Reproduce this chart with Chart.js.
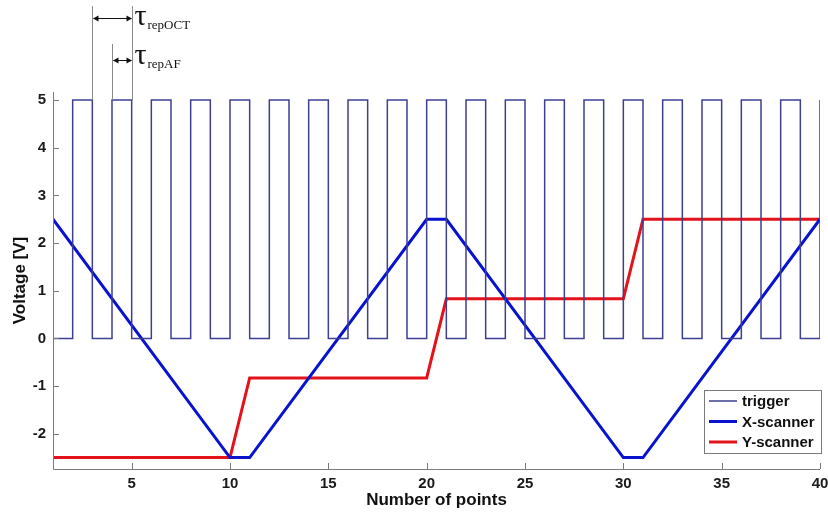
<!DOCTYPE html>
<html>
<head>
<meta charset="utf-8">
<script src="https://cdn.jsdelivr.net/npm/chart.js@4/dist/chart.umd.min.js"></script>
<style>
  html, body { margin: 0; padding: 0; background: #fff; }
  #wrap { width: 828px; height: 512px; }
</style>
</head>
<body>
<div id="wrap"><canvas id="c" width="828" height="512"></canvas></div>
<script>
// Trigger pulse level held from each sample point to the next (points 1..40)
const triggerX = [1,2,3,4,5,6,7,8,9,10,11,12,13,14,15,16,17,18,19,20,
                  21,22,23,24,25,26,27,28,29,30,31,32,33,34,35,36,37,38,39,40];
const triggerV = [0,5,0,5,0,5,0,5,0,5,0,5,0,5,0,5,0,5,0,5,
                  0,5,0,5,0,5,0,5,0,5,0,5,0,5,0,5,0,5,0,5];

// Scanner voltages at their corner points
const xScanX = [1, 10, 11, 20, 21, 30, 31, 40];
const xScanV = [2.5, -2.5, -2.5, 2.5, 2.5, -2.5, -2.5, 2.5];
const yScanX = [1, 10, 11, 20, 21, 30, 31, 40];
const yScanV = [-2.5, -2.5, -0.83, -0.83, 0.83, 0.83, 2.5, 2.5];

// Axis ticks
const xTicks = [5, 10, 15, 20, 25, 30, 35, 40];
const yTicks = [-2, -1, 0, 1, 2, 3, 4, 5];

const seriesNames = ['trigger', 'X-scanner', 'Y-scanner'];
const AXIS = '#7a7a7a';
const FONT = 'Arial, "Liberation Sans", Helvetica, sans-serif';
const SERIF = '"Times New Roman", "Liberation Serif", "DejaVu Serif", serif';

const pts = (xs, vs) => xs.map((x, i) => ({ x: x, y: vs[i] }));

// Axis lines, inward tick marks, the pulse-period annotation and the boxed legend
const decor = {
  id: 'decor',
  afterDatasetsDraw(chart) {
    const ctx = chart.ctx;
    const xs = chart.scales.x, ys = chart.scales.y;
    const a = chart.chartArea;
    ctx.save();
    ctx.strokeStyle = AXIS;
    ctx.lineWidth = 1;
    ctx.beginPath();
    ctx.moveTo(a.left + 0.5, a.top);
    ctx.lineTo(a.left + 0.5, a.bottom + 0.5);
    ctx.lineTo(a.right, a.bottom + 0.5);
    ctx.stroke();
    ctx.beginPath();
    xTicks.forEach(v => {
      const px = Math.round(xs.getPixelForValue(v)) + 0.5;
      ctx.moveTo(px, a.bottom);
      ctx.lineTo(px, a.bottom - 6);
    });
    yTicks.forEach(v => {
      const py = Math.round(ys.getPixelForValue(v)) + 0.5;
      ctx.moveTo(a.left, py);
      ctx.lineTo(a.left + 6, py);
    });
    ctx.stroke();

    // period markers above the trigger pulses
    const x3 = Math.round(xs.getPixelForValue(3)) + 0.5;
    const x4 = Math.round(xs.getPixelForValue(4)) + 0.5;
    const x5 = Math.round(xs.getPixelForValue(5)) + 0.5;
    const yTop = ys.getPixelForValue(5);
    ctx.strokeStyle = '#8a8a8a';
    ctx.beginPath();
    ctx.moveTo(x3, 6); ctx.lineTo(x3, yTop);
    ctx.moveTo(x4, 44); ctx.lineTo(x4, yTop);
    ctx.moveTo(x5, 6); ctx.lineTo(x5, yTop);
    ctx.stroke();

    const arrow = (xa, xb, y) => {
      ctx.strokeStyle = '#111';
      ctx.fillStyle = '#111';
      ctx.beginPath();
      ctx.moveTo(xa + 1, y); ctx.lineTo(xb - 1, y);
      ctx.stroke();
      ctx.beginPath();
      ctx.moveTo(xa + 0.5, y); ctx.lineTo(xa + 6, y - 3); ctx.lineTo(xa + 6, y + 3); ctx.closePath();
      ctx.moveTo(xb - 0.5, y); ctx.lineTo(xb - 6, y - 3); ctx.lineTo(xb - 6, y + 3); ctx.closePath();
      ctx.fill();
    };
    arrow(x3, x5, 18.5);
    arrow(x4, x5, 60.5);

    ctx.fillStyle = '#111';
    ctx.textBaseline = 'alphabetic';
    ctx.textAlign = 'left';
    const tau = (y, sub) => {
      ctx.font = '30px ' + SERIF;
      ctx.fillText('\u03C4', x5 + 2, y);
      ctx.font = '13px ' + SERIF;
      ctx.fillText(sub, x5 + 15, y + 4);
    };
    tau(25, 'repOCT');
    tau(64, 'repAF');

    // legend box
    const bx = 704, by = 390, bw = 117, bh = 63;
    ctx.fillStyle = '#fff';
    ctx.fillRect(bx, by, bw, bh);
    ctx.strokeStyle = AXIS;
    ctx.strokeRect(bx + 0.5, by + 0.5, bw, bh);
    ctx.font = 'bold 15px ' + FONT;
    ctx.textBaseline = 'middle';
    chart.data.datasets.forEach((ds, i) => {
      const ry = by + 11 + i * 20.5;
      ctx.strokeStyle = ds.borderColor;
      ctx.lineWidth = ds.borderWidth;
      ctx.beginPath();
      ctx.moveTo(bx + 5, ry); ctx.lineTo(bx + 33, ry);
      ctx.stroke();
      ctx.fillStyle = '#111';
      ctx.fillText(ds.label, bx + 38, ry + 1);
    });
    ctx.restore();
  }
};

new Chart(document.getElementById('c'), {
  type: 'line',
  data: {
    datasets: [
      { label: seriesNames[0], data: pts(triggerX, triggerV), stepped: 'before',
        borderColor: '#3d3f94', borderWidth: 1.5, pointRadius: 0 },
      { label: seriesNames[1], data: pts(xScanX, xScanV),
        borderColor: '#0812cf', borderWidth: 3, pointRadius: 0 },
      { label: seriesNames[2], data: pts(yScanX, yScanV),
        borderColor: '#e3121b', borderWidth: 3, pointRadius: 0 }
    ]
  },
  options: {
    responsive: false,
    animation: false,
    events: [],
    layout: { padding: { top: 92, right: 8, left: 0, bottom: 0 } },
    plugins: { legend: { display: false }, tooltip: { enabled: false } },
    scales: {
      x: {
        type: 'linear', min: 1, max: 40,
        grid: { display: false, drawTicks: false },
        border: { display: false },
        ticks: { color: '#1a1a1a', font: { family: FONT, size: 15, weight: 'bold' }, padding: 6, maxRotation: 0, autoSkip: false },
        afterBuildTicks: s => { s.ticks = xTicks.map(v => ({ value: v })); },
        afterFit: s => { s.height = 43; s.paddingLeft = 0; s.paddingRight = 0; },
        title: { display: true, text: 'Number of points', color: '#111',
                 font: { family: FONT, size: 17, weight: 'bold' }, padding: { top: 3, bottom: 1 } }
      },
      y: {
        type: 'linear', min: -2.74, max: 5.17,
        grid: { display: false, drawTicks: false },
        border: { display: false },
        ticks: { color: '#1a1a1a', font: { family: FONT, size: 15, weight: 'bold' }, padding: 7 },
        afterBuildTicks: s => { s.ticks = yTicks.map(v => ({ value: v })); },
        afterFit: s => { s.width = 53; s.paddingTop = 0; s.paddingBottom = 0; },
        title: { display: true, text: 'Voltage [V]', color: '#111',
                 font: { family: FONT, size: 17, weight: 'bold' }, padding: { top: 10, bottom: 0 } }
      }
    }
  },
  plugins: [decor]
});
</script>
</body>
</html>
